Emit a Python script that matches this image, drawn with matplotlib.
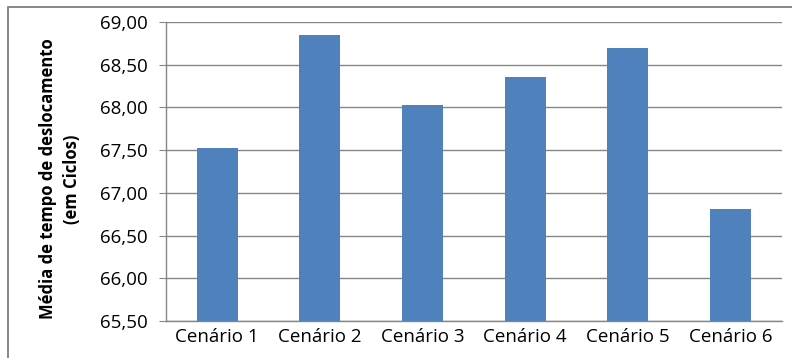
import matplotlib.pyplot as plt
from matplotlib.patches import Rectangle

# average travel time per scenario (cycles)
cenarios = ['Cenário 1', 'Cenário 2', 'Cenário 3', 'Cenário 4', 'Cenário 5', 'Cenário 6']
media_ciclos = [67.52, 68.85, 68.03, 68.36, 68.70, 66.81]
y_ticks = [65.5, 66.0, 66.5, 67.0, 67.5, 68.0, 68.5, 69.0]

plt.rcParams['font.family'] = ['Open Sans', 'DejaVu Sans']

fig = plt.figure(figsize=(7.92, 3.58), dpi=100)
ax = fig.add_axes([0.2096, 0.1034, 0.7774, 0.8351])

# chart frame
fig.patches.append(Rectangle((8 / 792, -0.1), 1.0, 1.1 - 7 / 358,
                             transform=fig.transFigure, fill=False,
                             edgecolor='#7f7f7f', linewidth=1.3))

x = range(len(cenarios))
ax.bar(x, media_ciclos, width=0.4, color='#4F81BD', zorder=3)

ax.set_ylim(65.5, 69.0)
ax.set_xlim(-0.5, len(cenarios) - 0.5)
ax.set_yticks(y_ticks)
ax.set_yticklabels([('%.2f' % v).replace('.', ',') for v in y_ticks], fontsize=13.5)
ax.set_xticks(list(x))
ax.set_xticklabels(cenarios, fontsize=13.5)
ax.tick_params(axis='x', length=0, pad=5)
ax.tick_params(axis='y', length=5, color='#868686', pad=8)

ax.grid(axis='y', color='#868686', linewidth=1.0, zorder=0)
for side in ['top', 'right']:
    ax.spines[side].set_visible(False)
for side in ['left', 'bottom']:
    ax.spines[side].set_color('#868686')
    ax.spines[side].set_linewidth(1.0)

ax.set_ylabel('Média de tempo de deslocamento\n(em Ciclos)', fontsize=12,
              fontweight='bold', linespacing=1.45)
ax.yaxis.set_label_coords(-0.138, 0.475)

fig.savefig('out.png', dpi=100)
